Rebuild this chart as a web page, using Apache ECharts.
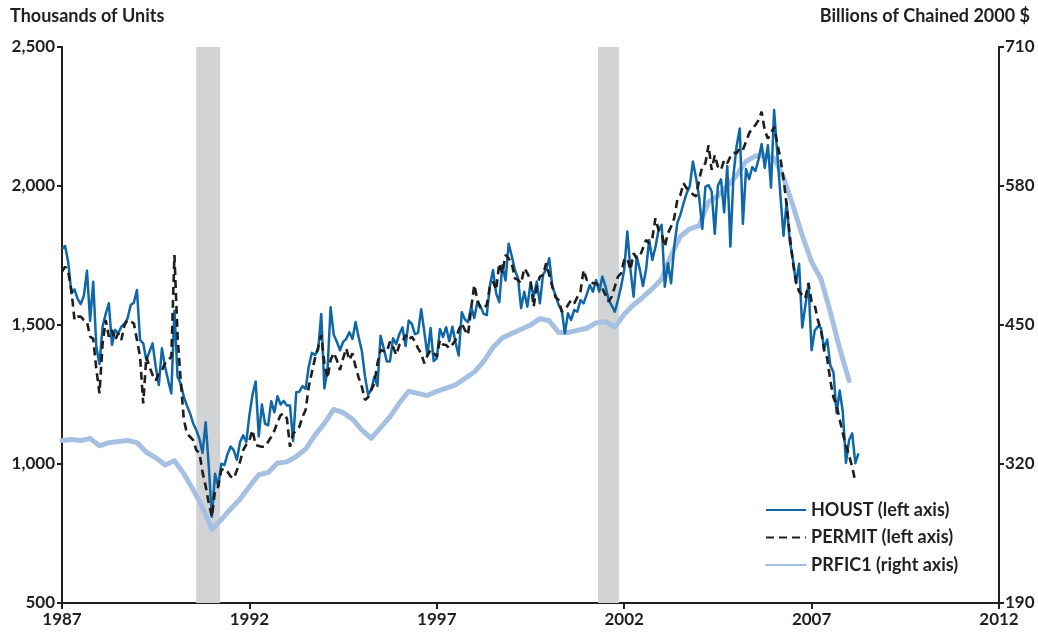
<!DOCTYPE html>
<html><head><meta charset="utf-8">
<script src="https://cdn.jsdelivr.net/npm/echarts@6/dist/echarts.min.js"></script>
<style>html,body{margin:0;padding:0;background:#fff}#c{width:1038px;height:633px}</style>
</head><body><div id="c"></div>
<script>
// ---- data ----
const xTickLabels = [1987, 1992, 1997, 2002, 2007, 2012];
const leftTickLabels = [500, 1000, 1500, 2000, 2500];
const rightTickLabels = [190, 320, 450, 580, 710];
const recessions = [[1990.583, 1991.22], [2001.3, 2001.86]];

// HOUST, monthly from Jan 1987 (thousands of units)
const houst = [
  1774,1784,1726,1614,1628,1594,1575,1605,1695,1515,1656,1420,
  1360,1494,1540,1578,1428,1482,1470,1494,1505,1524,1572,1580,
  1626,1446,1434,1374,1404,1434,1350,1284,1416,1350,1300,1254,
  1551,1314,1290,1242,1210,1182,1146,1122,1090,1040,1150,990,
  810,965,921,1001,996,1036,1063,1049,1015,1079,1103,1079,
  1176,1250,1297,1099,1214,1145,1139,1226,1186,1244,1214,1227,
  1210,1210,1083,1258,1260,1280,1270,1350,1400,1392,1410,1540,
  1272,1337,1564,1465,1440,1409,1439,1450,1474,1450,1511,1455,
  1407,1316,1249,1267,1314,1281,1461,1416,1369,1369,1452,1431,
  1467,1491,1424,1516,1504,1467,1472,1557,1475,1392,1489,1370,
  1380,1486,1457,1492,1442,1494,1437,1390,1546,1520,1510,1566,
  1525,1584,1567,1540,1536,1641,1698,1614,1582,1715,1660,1792,
  1748,1698,1668,1560,1620,1566,1650,1602,1656,1578,1680,1700,
  1740,1638,1608,1572,1554,1470,1542,1518,1554,1548,1590,1578,
  1610,1644,1620,1662,1620,1674,1640,1590,1570,1548,1590,1638,
  1698,1836,1700,1602,1746,1700,1640,1700,1806,1734,1780,1842,
  1860,1638,1722,1650,1780,1867,1897,1938,1974,2000,2088,2030,
  1960,1846,1998,2003,1981,1828,2002,2024,1905,2072,1782,2042,
  2144,2207,1864,2061,2025,2068,2054,2095,2151,2065,2147,1994,
  2273,2119,1969,1821,1942,1802,1737,1650,1720,1491,1570,1649,
  1409,1480,1495,1490,1415,1448,1354,1330,1183,1264,1187,1004,
  1086,1110,1003,1038
];

// PERMIT, monthly from Jan 1987 (thousands of units)
const permit = [
  1692,1710,1690,1626,1518,1530,1530,1518,1512,1458,1450,1340,
  1254,1434,1518,1458,1482,1446,1470,1446,1500,1518,1512,1506,
  1446,1386,1218,1386,1350,1320,1300,1326,1338,1362,1374,1386,
  1752,1460,1300,1160,1110,1098,1086,1050,1040,970,920,858,
  810,906,918,978,984,972,955,948,978,1008,1050,1070,
  1086,1122,1068,1065,1062,1062,1080,1098,1120,1150,1176,1182,
  1164,1062,1110,1120,1134,1170,1194,1278,1330,1380,1420,1464,
  1362,1308,1374,1400,1374,1338,1380,1416,1374,1398,1350,1310,
  1278,1230,1240,1266,1290,1362,1410,1406,1404,1440,1422,1392,
  1428,1440,1464,1446,1458,1440,1416,1398,1362,1390,1410,1400,
  1386,1446,1430,1428,1416,1430,1446,1482,1506,1482,1464,1560,
  1644,1590,1560,1560,1572,1638,1656,1626,1722,1686,1752,1740,
  1722,1668,1662,1650,1704,1686,1662,1566,1638,1674,1680,1722,
  1680,1638,1600,1590,1548,1554,1572,1590,1578,1600,1620,1698,
  1662,1662,1650,1650,1640,1632,1608,1584,1602,1638,1674,1686,
  1734,1740,1698,1758,1740,1746,1776,1806,1794,1812,1884,1842,
  1830,1782,1830,1854,1884,1950,1968,2010,1992,1980,1970,1962,
  2022,2070,2082,2147,2058,2111,2070,2058,2094,2082,2106,2120,
  2118,2136,2129,2160,2190,2207,2219,2237,2267,2200,2171,2189,
  2213,2153,2100,2028,1932,1824,1728,1656,1620,1608,1596,1650,
  1584,1572,1518,1482,1410,1380,1300,1240,1210,1160,1110,1068,
  1030,990,936
];

// PRFIC1, quarterly from 1987Q1 (billions of chained 2000 $)
const prfic1 = [
  342,343,342,344,
  337,340,341,342,
  340,331,326,319,
  323,311,296,279,
  259,268,278,287,
  299,310,312,321,
  322,327,334,347,
  358,371,368,362,
  352,344,354,364,
  377,388,386,384,
  388,391,394,400,
  406,416,429,438,
  442,446,450,456,
  454,443,443,445,
  447,452,453,448,
  460,469,476,484,
  493,515,533,540,
  543,565,571,580,
  590,603,608,609,
  606,588,562,534,
  509,493,462,428,
  398
];

// ---- build ----
const startYear = 1987;
const monthly = arr => arr.map((v, i) => [startYear + i / 12, v]);
const quarterly = arr => arr.map((v, i) => [startYear + i / 4, v]);

const FONT = 'Lato, "Open Sans", sans-serif';
const INK = '#231f20';
const lab = { fontFamily: FONT, fontWeight: 'bold', fontSize: 17, color: INK };

const chart = echarts.init(document.getElementById('c'), null, { renderer: 'canvas' });
chart.setOption({
  animation: false,
  backgroundColor: '#ffffff',
  grid: { left: 62, right: 39, top: 47, bottom: 30, containLabel: false },
  graphic: [
    { type: 'text', left: 10, top: 7, style: { text: 'Thousands of Units', font: 'bold 18px ' + FONT, fill: INK } },
    { type: 'text', right: 8, top: 7, style: { text: 'Billions of Chained 2000 $', font: 'bold 18px ' + FONT, fill: INK } }
  ],
  legend: {
    orient: 'vertical', left: 760, top: 496,
    itemWidth: 40, itemHeight: 14, itemGap: 9.5,
    itemStyle: { opacity: 0 },
    data: ['HOUST (left axis)', 'PERMIT (left axis)', 'PRFIC1 (right axis)'],
    textStyle: { fontFamily: FONT, fontWeight: 'bold', fontSize: 18, lineHeight: 18, color: INK }
  },
  xAxis: {
    type: 'value',
    min: xTickLabels[0], max: xTickLabels[xTickLabels.length - 1], interval: 5,
    axisLine: { lineStyle: { color: INK, width: 2 } },
    axisTick: { length: 6, lineStyle: { color: INK, width: 2 } },
    axisLabel: Object.assign({ margin: 8, formatter: v => String(v) }, lab),
    splitLine: { show: false }
  },
  yAxis: [
    {
      type: 'value', position: 'left',
      min: leftTickLabels[0], max: leftTickLabels[leftTickLabels.length - 1], interval: 500,
      axisLine: { show: true, lineStyle: { color: INK, width: 2 } },
      axisTick: { show: true, length: 5, lineStyle: { color: INK, width: 2 } },
      axisLabel: Object.assign({ margin: 7, formatter: v => v.toLocaleString('en-US') }, lab),
      splitLine: { show: false }
    },
    {
      type: 'value', position: 'right',
      min: rightTickLabels[0], max: rightTickLabels[rightTickLabels.length - 1], interval: 130,
      axisLine: { show: true, lineStyle: { color: INK, width: 2 } },
      axisTick: { show: true, length: 5, lineStyle: { color: INK, width: 2 } },
      axisLabel: Object.assign({ margin: 6 }, lab),
      splitLine: { show: false }
    }
  ],
  series: [
    {
      name: 'recessions', type: 'line', data: [], z: 1, silent: true,
      markArea: {
        silent: true,
        itemStyle: { color: '#d1d3d4' },
        data: recessions.map(r => [{ xAxis: r[0] }, { xAxis: r[1] }])
      }
    },
    {
      name: 'PRFIC1 (right axis)', type: 'line', yAxisIndex: 1, z: 2,
      data: quarterly(prfic1), symbol: 'none', showSymbol: false,
      lineStyle: { color: '#a5c0e2', width: 5, cap: 'round', join: 'round' },
      itemStyle: { color: '#a5c0e2' }
    },
    {
      name: 'HOUST (left axis)', type: 'line', yAxisIndex: 0, z: 3,
      data: monthly(houst), symbol: 'none', showSymbol: false,
      lineStyle: { color: '#0f67a8', width: 2.5, join: 'round' },
      itemStyle: { color: '#0f67a8' }
    },
    {
      name: 'PERMIT (left axis)', type: 'line', yAxisIndex: 0, z: 4,
      data: monthly(permit), symbol: 'none', showSymbol: false,
      lineStyle: { color: '#1e1e1e', width: 2.6, type: [8, 5] },
      itemStyle: { color: '#1e1e1e' }
    }
  ]
});
</script>
</body></html>
